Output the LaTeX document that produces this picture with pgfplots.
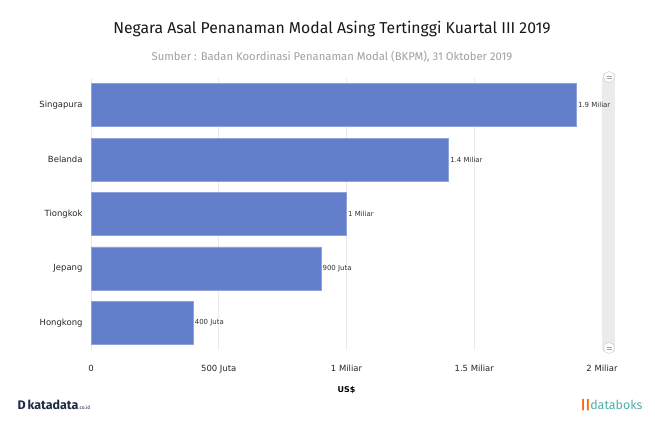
\documentclass[border=0pt]{standalone}
\usepackage{pgfplots}
\pgfplotsset{compat=1.18}
\usepackage{fontspec}
\setmainfont{DejaVu Sans}
\newfontfamily\titlefont{Fira Sans}
\definecolor{barc}{HTML}{637FCC}
\definecolor{barb}{HTML}{8FA3DB}
\definecolor{gridc}{HTML}{EBEBEB}
\definecolor{subc}{HTML}{A0A0A0}
\definecolor{teal}{HTML}{4FAFA8}
\definecolor{dark}{HTML}{1F2A44}
\begin{document}
\begin{tikzpicture}[x=1bp,y=1bp]
\fill[white] (0,0) rectangle (655,420);
\node[font=\titlefont\fontsize{15.8}{17}\selectfont, text=black!90] at (332,391) {Negara Asal Penanaman Modal Asing Tertinggi Kuartal III 2019};
\node[font=\titlefont\fontsize{11.3}{13}\selectfont, text=subc] at (332,363) {Sumber : Badan Koordinasi Penanaman Modal (BKPM), 31 Oktober 2019};
% scrollbar
\fill[gridc] (603,68) rectangle (615,347);
\draw[gridc!70!gray, fill=white] (609,343) circle (5.5);
\draw[gridc!70!gray, fill=white] (609,72) circle (5.5);
\draw[gray!70, line width=0.5pt] (606.5,344) -- (611.5,344) (606.5,342) -- (611.5,342);
\draw[gray!70, line width=0.5pt] (606.5,73) -- (611.5,73) (606.5,71) -- (611.5,71);
\begin{axis}[
  at={(91bp,70bp)}, anchor=south west,
  width=511bp, height=272bp, scale only axis,
  xmin=0, xmax=2, ymin=-0.5, ymax=4.5, y dir=reverse,
  axis line style={draw=none},
  xtick={0,0.5,1,1.5,2},
  xticklabels={0,500 Juta,1 Miliar,1.5 Miliar,2 Miliar},
  ytick={0,1,2,3,4},
  yticklabels={Singapura,Belanda,Tiongkok,Jepang,Hongkong},
  tick style={draw=none},
  xmajorgrids, grid style={gridc, line width=0.8pt},
  ticklabel style={font=\fontsize{8.5}{10}\selectfont, text=black!85},
  xticklabel style={yshift=-12bp},
  yticklabel style={xshift=-5bp},
  xlabel={\textbf{US\$}}, xlabel style={font=\fontsize{8}{10}\selectfont, yshift=-6bp},
  nodes near coords, point meta=explicit symbolic,
  every node near coord/.append style={font=\fontsize{7}{8}\selectfont, text=black!80, anchor=west, xshift=-2bp},
  clip=false,
]
\addplot[xbar, bar width=43bp, fill=barc, draw=barb, line width=0.6pt] coordinates {
  (1.90,0) [1.9 Miliar]
  (1.40,1) [1.4 Miliar]
  (1.00,2) [1 Miliar]
  (0.90,3) [900 Juta]
  (0.40,4) [400 Juta]
};
\end{axis}
\node[font=\titlefont\fontsize{12.5}{13}\selectfont\bfseries, text=dark, anchor=west] at (14,15) {\textbf{D}\,katadata{\fontsize{5}{6}\selectfont\mdseries.co.id}};
\node[font=\titlefont\fontsize{12.5}{13}\selectfont, text=teal, anchor=east] at (646,15) {\textcolor{orange!80!red}{\textbf{\textbar\textbar}}databoks};
\end{tikzpicture}
\end{document}
